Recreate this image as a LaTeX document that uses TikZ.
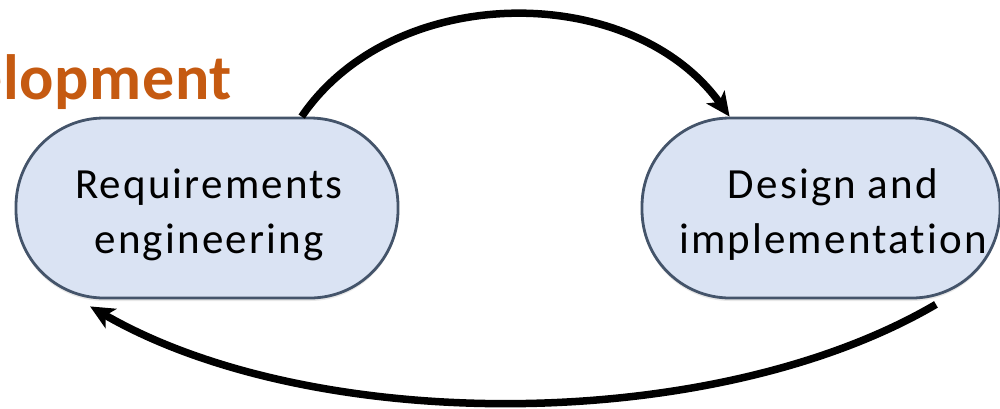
\documentclass[tikz,border=0pt]{standalone}
\usepackage{fontspec}
\setmainfont{Carlito}
\newfontfamily\phasefont[LetterSpace=5,Ligatures=NoCommon]{Carlito}
\newfontfamily\titlefont[LetterSpace=1,Ligatures=NoCommon]{Carlito}
\usetikzlibrary{arrows.meta,shadows}
\definecolor{nodefill}{RGB}{218,227,243}
\definecolor{nodeedge}{RGB}{68,84,106}
\definecolor{titleorange}{RGB}{197,90,17}
\tikzset{
  phase/.style={draw=nodeedge, line width=2.8pt, fill=nodefill, rounded corners=88pt,
    minimum height=180pt, inner sep=0pt,
    drop shadow={opacity=0.18, shadow xshift=0pt, shadow yshift=-3pt}},
  phasetext/.style={align=center, inner sep=0pt, font=\phasefont\fontsize{43}{55}\selectfont},
  titletext/.style={inner sep=0pt, text=titleorange, font=\titlefont\fontsize{64}{72}\selectfont\bfseries},
  conn/.style={line width=7.5pt, -{Stealth[length=24pt,width=22pt,inset=6pt]}}
}
\begin{document}
\begin{tikzpicture}[x=1pt,y=-1pt]
\useasboundingbox (0,0) rectangle (1000,408);
\clip (0,0) rectangle (1000,408);
\node[titletext, anchor=base east] (title) at (232,99) {Agile development};
\node[phase, minimum width=382pt] (L) at (207,208) {};
\node[phase, minimum width=358pt] (R) at (821,208) {};
\node[phasetext] (Lt) at (209,215) {Requirements\\engineering};
\node[phasetext] (Rt) at (833,215) {Design and\\implementation};
\draw[conn] (L.44.7) .. controls (394,-19) and (632,-19) .. (R.135.3);
\draw[conn] ([shift={(6,5)}]R.-40.3) .. controls (713,435) and (313,435) .. ([shift={(-8,7)}]L.220.4);
\end{tikzpicture}
\end{document}
